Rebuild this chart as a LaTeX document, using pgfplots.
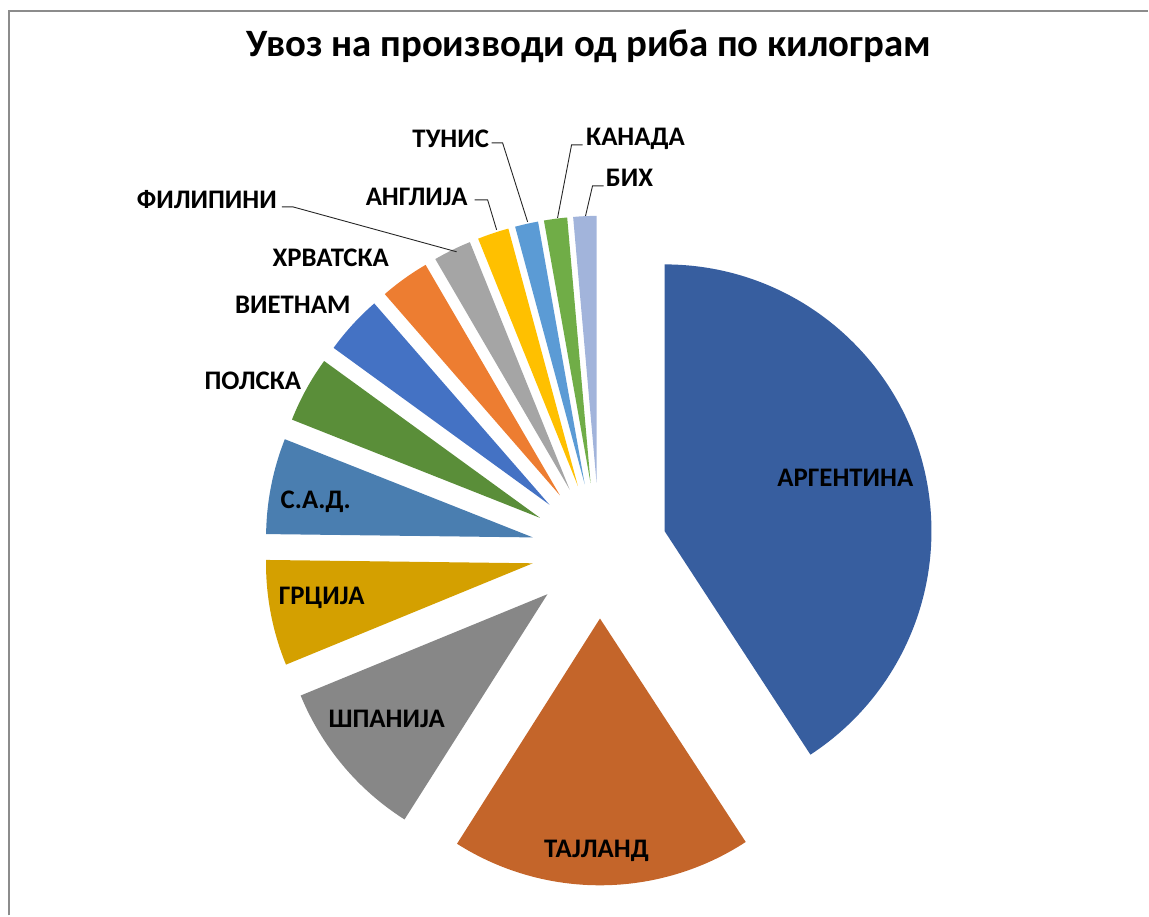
\documentclass[border=0pt]{standalone}
\usepackage{pgfplots}
\usepackage{pgfplotstable}
\pgfplotsset{compat=1.18}
\usepackage{fontspec}
\setmainfont{Carlito}

\definecolor{cArg}{RGB}{55,94,159}
\definecolor{cTha}{RGB}{196,101,42}
\definecolor{cSpa}{RGB}{135,135,135}
\definecolor{cGre}{RGB}{212,160,0}
\definecolor{cUsa}{RGB}{74,126,176}
\definecolor{cPol}{RGB}{90,142,57}
\definecolor{cVie}{RGB}{68,114,196}
\definecolor{cCro}{RGB}{237,125,49}
\definecolor{cPhi}{RGB}{165,165,165}
\definecolor{cEng}{RGB}{255,192,0}
\definecolor{cTun}{RGB}{91,155,213}
\definecolor{cCan}{RGB}{112,173,71}
\definecolor{cBih}{RGB}{162,180,219}
\definecolor{frame}{RGB}{140,140,140}

% share of imports (%), clockwise from 12 o'clock
\pgfplotstableread{
country  value  color
ARG      40.8   cArg
THA      18.2   cTha
ESP       9.8   cSpa
GRC       6.4   cGre
USA       5.8   cUsa
POL       4.0   cPol
VNM       3.6   cVie
HRV       3.0   cCro
PHL       2.3   cPhi
GBR       1.9   cEng
TUN       1.4   cTun
CAN       1.4   cCan
BIH       1.4   cBih
}\piedata

\begin{document}
\begin{tikzpicture}
\begin{axis}[
  x=0.5pt, y=0.5pt,
  xmin=0, xmax=1149, ymin=0, ymax=916,
  enlargelimits=false,
  hide axis, clip=false,
]
\path (axis cs:0,0) rectangle (axis cs:1149,916);
% frame (top and left edges visible)
\draw[frame, line width=0.9pt] (axis cs:9,0) -- (axis cs:9,905) -- (axis cs:1149,905);

\pgfplotsextra{
  \pgfplotstablegetrowsof{\piedata}
  \pgfmathtruncatemacro\N{\pgfplotsretval-1}
  \gdef\cumsum{0}
  \foreach \i in {0,...,\N}{
    \pgfplotstablegetelem{\i}{value}\of\piedata \let\sliceval\pgfplotsretval
    \pgfplotstablegetelem{\i}{color}\of\piedata \let\slicecol\pgfplotsretval
    \pgfmathsetmacro\sa{\cumsum*3.6}
    \pgfmathsetmacro\sb{(\cumsum+\sliceval)*3.6}
    \pgfmathsetmacro\sm{(\sa+\sb)/2}
    \pgfmathsetmacro\apx{600+68*sin(\sm)}
    \pgfmathsetmacro\apy{365+68*cos(\sm)}
    \pgfmathsetmacro\ta{90-\sa}
    \pgfmathsetmacro\tb{90-\sb}
    \fill[fill=\slicecol] (axis cs:\apx,\apy) -- ++(\ta:133.5pt)
        arc[start angle=\ta, end angle=\tb, radius=133.5pt] -- cycle;
    \pgfmathsetmacro\newcum{\cumsum+\sliceval}
    \xdef\cumsum{\newcum}
  }
}

% title
\node[font=\bfseries\fontsize{19.4}{23}\selectfont] at (axis cs:589,870) {Увоз на производи од риба по килограм};

% labels
\begin{scope}[every node/.style={font=\bfseries\fontsize{13.4}{15}\selectfont, inner sep=0pt}]
\node at (axis cs:846,438) {АРГЕНТИНА};
\node at (axis cs:597,64) {ТАЈЛАНД};
\node at (axis cs:387,197) {ШПАНИЈА};
\node at (axis cs:322,318) {ГРЦИЈА};
\node at (axis cs:316,414) {С.А.Д.};
\node at (axis cs:253,535) {ПОЛСКА};
\node at (axis cs:293,611) {ВИЕТНАМ};
\node at (axis cs:331,658) {ХРВАТСКА};
\node at (axis cs:207,716) {ФИЛИПИНИ};
\node at (axis cs:417,719) {АНГЛИЈА};
\node at (axis cs:451,777) {ТУНИС};
\node at (axis cs:636,777) {КАНАДА};
\node at (axis cs:630,738) {БИХ};
\end{scope}

% leader lines
\begin{scope}[draw=black!85, line width=0.45pt]
\draw (axis cs:282,709) -- (axis cs:293,709) -- (axis cs:457,664);
\draw (axis cs:475,716) -- (axis cs:488,716) -- (axis cs:497,686);
\draw (axis cs:492,773) -- (axis cs:503,773) -- (axis cs:528,694);
\draw (axis cs:583,771) -- (axis cs:572,771) -- (axis cs:558,698);
\draw (axis cs:604,730) -- (axis cs:593,730) -- (axis cs:586,700);
\end{scope}
\end{axis}
\end{tikzpicture}
\end{document}
